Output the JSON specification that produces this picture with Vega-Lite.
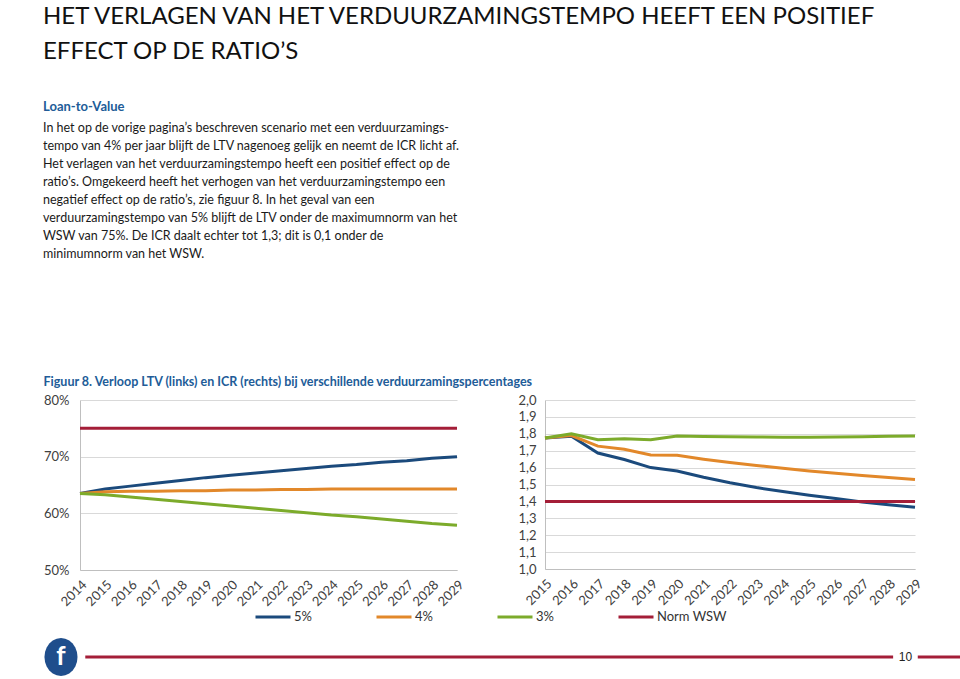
{
  "$schema": "https://vega.github.io/schema/vega-lite/v6.json",
  "background": "white",
  "padding": {"left": 43, "top": 4, "right": 0, "bottom": 0},
  "config": {
    "font": "Lato",
    "view": {"stroke": null},
    "axis": {"labelFont": "Lato", "labelColor": "#404040", "labelFontSize": 13, "domainColor": "#BFBFBF", "gridColor": "#D9D9D9", "ticks": false, "title": null},
    "legend": {"labelFont": "Lato"}
  },
  "title": {
    "text": ["HET VERLAGEN VAN HET VERDUURZAMINGSTEMPO HEEFT EEN POSITIEF", "EFFECT OP DE RATIO’S"],
    "anchor": "start", "fontSize": 24, "fontWeight": "normal", "color": "#111111", "lineHeight": 35, "offset": 37, "font": "Lato"
  },
  "spacing": 22,
  "vconcat": [
    {
      "data": {"values": []},
      "mark": "text",
      "encoding": {},
      "width": 420,
      "height": 93,
      "title": {
        "text": "Loan-to-Value",
        "subtitle": [
          "In het op de vorige pagina’s beschreven scenario met een verduurzamings-",
          "tempo van 4% per jaar blijft de LTV nagenoeg gelijk en neemt de ICR licht af.",
          "Het verlagen van het verduurzamingstempo heeft een positief effect op de",
          "ratio’s. Omgekeerd heeft het verhogen van het verduurzamingstempo een",
          "negatief effect op de ratio’s, zie figuur 8. In het geval van een",
          "verduurzamingstempo van 5% blijft de LTV onder de maximumnorm van het",
          "WSW van 75%. De ICR daalt echter tot 1,3; dit is 0,1 onder de",
          "minimumnorm van het WSW."
        ],
        "anchor": "start", "dx": -37, "fontSize": 13, "fontWeight": "bold", "color": "#215C98",
        "subtitleFontSize": 12.5, "subtitleColor": "#1a1a1a", "subtitleLineHeight": 18, "subtitlePadding": 8, "offset": 0
      }
    },
    {
      "title": {"text": "Figuur 8. Verloop LTV (links) en ICR (rechts) bij verschillende verduurzamingspercentages", "anchor": "start", "fontSize": 12.5, "fontWeight": "bold", "color": "#215C98", "offset": 6},
      "data": {"values": [
        {"chart": "LTV", "series": "5%", "year": 2014, "value": 63.5},
        {"chart": "LTV", "series": "5%", "year": 2015, "value": 64.3},
        {"chart": "LTV", "series": "5%", "year": 2016, "value": 64.8},
        {"chart": "LTV", "series": "5%", "year": 2017, "value": 65.3},
        {"chart": "LTV", "series": "5%", "year": 2018, "value": 65.8},
        {"chart": "LTV", "series": "5%", "year": 2019, "value": 66.3},
        {"chart": "LTV", "series": "5%", "year": 2020, "value": 66.7},
        {"chart": "LTV", "series": "5%", "year": 2021, "value": 67.1},
        {"chart": "LTV", "series": "5%", "year": 2022, "value": 67.5},
        {"chart": "LTV", "series": "5%", "year": 2023, "value": 67.9},
        {"chart": "LTV", "series": "5%", "year": 2024, "value": 68.3},
        {"chart": "LTV", "series": "5%", "year": 2025, "value": 68.6},
        {"chart": "LTV", "series": "5%", "year": 2026, "value": 69.0},
        {"chart": "LTV", "series": "5%", "year": 2027, "value": 69.3},
        {"chart": "LTV", "series": "5%", "year": 2028, "value": 69.7},
        {"chart": "LTV", "series": "5%", "year": 2029, "value": 70.0},
        {"chart": "LTV", "series": "4%", "year": 2014, "value": 63.5},
        {"chart": "LTV", "series": "4%", "year": 2015, "value": 63.8},
        {"chart": "LTV", "series": "4%", "year": 2016, "value": 63.9},
        {"chart": "LTV", "series": "4%", "year": 2017, "value": 63.9},
        {"chart": "LTV", "series": "4%", "year": 2018, "value": 64.0},
        {"chart": "LTV", "series": "4%", "year": 2019, "value": 64.0},
        {"chart": "LTV", "series": "4%", "year": 2020, "value": 64.1},
        {"chart": "LTV", "series": "4%", "year": 2021, "value": 64.1},
        {"chart": "LTV", "series": "4%", "year": 2022, "value": 64.2},
        {"chart": "LTV", "series": "4%", "year": 2023, "value": 64.2},
        {"chart": "LTV", "series": "4%", "year": 2024, "value": 64.3},
        {"chart": "LTV", "series": "4%", "year": 2025, "value": 64.3},
        {"chart": "LTV", "series": "4%", "year": 2026, "value": 64.3},
        {"chart": "LTV", "series": "4%", "year": 2027, "value": 64.3},
        {"chart": "LTV", "series": "4%", "year": 2028, "value": 64.3},
        {"chart": "LTV", "series": "4%", "year": 2029, "value": 64.3},
        {"chart": "LTV", "series": "3%", "year": 2014, "value": 63.5},
        {"chart": "LTV", "series": "3%", "year": 2015, "value": 63.3},
        {"chart": "LTV", "series": "3%", "year": 2016, "value": 62.9},
        {"chart": "LTV", "series": "3%", "year": 2017, "value": 62.5},
        {"chart": "LTV", "series": "3%", "year": 2018, "value": 62.1},
        {"chart": "LTV", "series": "3%", "year": 2019, "value": 61.7},
        {"chart": "LTV", "series": "3%", "year": 2020, "value": 61.3},
        {"chart": "LTV", "series": "3%", "year": 2021, "value": 60.9},
        {"chart": "LTV", "series": "3%", "year": 2022, "value": 60.5},
        {"chart": "LTV", "series": "3%", "year": 2023, "value": 60.1},
        {"chart": "LTV", "series": "3%", "year": 2024, "value": 59.7},
        {"chart": "LTV", "series": "3%", "year": 2025, "value": 59.4},
        {"chart": "LTV", "series": "3%", "year": 2026, "value": 59.0},
        {"chart": "LTV", "series": "3%", "year": 2027, "value": 58.6},
        {"chart": "LTV", "series": "3%", "year": 2028, "value": 58.2},
        {"chart": "LTV", "series": "3%", "year": 2029, "value": 57.9},
        {"chart": "LTV", "series": "Norm WSW", "year": 2014, "value": 75},
        {"chart": "LTV", "series": "Norm WSW", "year": 2015, "value": 75},
        {"chart": "LTV", "series": "Norm WSW", "year": 2016, "value": 75},
        {"chart": "LTV", "series": "Norm WSW", "year": 2017, "value": 75},
        {"chart": "LTV", "series": "Norm WSW", "year": 2018, "value": 75},
        {"chart": "LTV", "series": "Norm WSW", "year": 2019, "value": 75},
        {"chart": "LTV", "series": "Norm WSW", "year": 2020, "value": 75},
        {"chart": "LTV", "series": "Norm WSW", "year": 2021, "value": 75},
        {"chart": "LTV", "series": "Norm WSW", "year": 2022, "value": 75},
        {"chart": "LTV", "series": "Norm WSW", "year": 2023, "value": 75},
        {"chart": "LTV", "series": "Norm WSW", "year": 2024, "value": 75},
        {"chart": "LTV", "series": "Norm WSW", "year": 2025, "value": 75},
        {"chart": "LTV", "series": "Norm WSW", "year": 2026, "value": 75},
        {"chart": "LTV", "series": "Norm WSW", "year": 2027, "value": 75},
        {"chart": "LTV", "series": "Norm WSW", "year": 2028, "value": 75},
        {"chart": "LTV", "series": "Norm WSW", "year": 2029, "value": 75},
        {"chart": "ICR", "series": "5%", "year": 2015, "value": 1.775},
        {"chart": "ICR", "series": "5%", "year": 2016, "value": 1.785},
        {"chart": "ICR", "series": "5%", "year": 2017, "value": 1.686},
        {"chart": "ICR", "series": "5%", "year": 2018, "value": 1.648},
        {"chart": "ICR", "series": "5%", "year": 2019, "value": 1.6},
        {"chart": "ICR", "series": "5%", "year": 2020, "value": 1.58},
        {"chart": "ICR", "series": "5%", "year": 2021, "value": 1.543},
        {"chart": "ICR", "series": "5%", "year": 2022, "value": 1.51},
        {"chart": "ICR", "series": "5%", "year": 2023, "value": 1.482},
        {"chart": "ICR", "series": "5%", "year": 2024, "value": 1.458},
        {"chart": "ICR", "series": "5%", "year": 2025, "value": 1.437},
        {"chart": "ICR", "series": "5%", "year": 2026, "value": 1.417},
        {"chart": "ICR", "series": "5%", "year": 2027, "value": 1.397},
        {"chart": "ICR", "series": "5%", "year": 2028, "value": 1.38},
        {"chart": "ICR", "series": "5%", "year": 2029, "value": 1.365},
        {"chart": "ICR", "series": "4%", "year": 2015, "value": 1.775},
        {"chart": "ICR", "series": "4%", "year": 2016, "value": 1.79},
        {"chart": "ICR", "series": "4%", "year": 2017, "value": 1.727},
        {"chart": "ICR", "series": "4%", "year": 2018, "value": 1.708},
        {"chart": "ICR", "series": "4%", "year": 2019, "value": 1.675},
        {"chart": "ICR", "series": "4%", "year": 2020, "value": 1.673},
        {"chart": "ICR", "series": "4%", "year": 2021, "value": 1.65},
        {"chart": "ICR", "series": "4%", "year": 2022, "value": 1.63},
        {"chart": "ICR", "series": "4%", "year": 2023, "value": 1.613},
        {"chart": "ICR", "series": "4%", "year": 2024, "value": 1.596},
        {"chart": "ICR", "series": "4%", "year": 2025, "value": 1.58},
        {"chart": "ICR", "series": "4%", "year": 2026, "value": 1.566},
        {"chart": "ICR", "series": "4%", "year": 2027, "value": 1.553},
        {"chart": "ICR", "series": "4%", "year": 2028, "value": 1.541},
        {"chart": "ICR", "series": "4%", "year": 2029, "value": 1.53},
        {"chart": "ICR", "series": "3%", "year": 2015, "value": 1.775},
        {"chart": "ICR", "series": "3%", "year": 2016, "value": 1.8},
        {"chart": "ICR", "series": "3%", "year": 2017, "value": 1.765},
        {"chart": "ICR", "series": "3%", "year": 2018, "value": 1.77},
        {"chart": "ICR", "series": "3%", "year": 2019, "value": 1.765},
        {"chart": "ICR", "series": "3%", "year": 2020, "value": 1.787},
        {"chart": "ICR", "series": "3%", "year": 2021, "value": 1.784},
        {"chart": "ICR", "series": "3%", "year": 2022, "value": 1.782},
        {"chart": "ICR", "series": "3%", "year": 2023, "value": 1.781},
        {"chart": "ICR", "series": "3%", "year": 2024, "value": 1.78},
        {"chart": "ICR", "series": "3%", "year": 2025, "value": 1.78},
        {"chart": "ICR", "series": "3%", "year": 2026, "value": 1.781},
        {"chart": "ICR", "series": "3%", "year": 2027, "value": 1.783},
        {"chart": "ICR", "series": "3%", "year": 2028, "value": 1.785},
        {"chart": "ICR", "series": "3%", "year": 2029, "value": 1.787},
        {"chart": "ICR", "series": "Norm WSW", "year": 2015, "value": 1.4},
        {"chart": "ICR", "series": "Norm WSW", "year": 2016, "value": 1.4},
        {"chart": "ICR", "series": "Norm WSW", "year": 2017, "value": 1.4},
        {"chart": "ICR", "series": "Norm WSW", "year": 2018, "value": 1.4},
        {"chart": "ICR", "series": "Norm WSW", "year": 2019, "value": 1.4},
        {"chart": "ICR", "series": "Norm WSW", "year": 2020, "value": 1.4},
        {"chart": "ICR", "series": "Norm WSW", "year": 2021, "value": 1.4},
        {"chart": "ICR", "series": "Norm WSW", "year": 2022, "value": 1.4},
        {"chart": "ICR", "series": "Norm WSW", "year": 2023, "value": 1.4},
        {"chart": "ICR", "series": "Norm WSW", "year": 2024, "value": 1.4},
        {"chart": "ICR", "series": "Norm WSW", "year": 2025, "value": 1.4},
        {"chart": "ICR", "series": "Norm WSW", "year": 2026, "value": 1.4},
        {"chart": "ICR", "series": "Norm WSW", "year": 2027, "value": 1.4},
        {"chart": "ICR", "series": "Norm WSW", "year": 2028, "value": 1.4},
        {"chart": "ICR", "series": "Norm WSW", "year": 2029, "value": 1.4}
      ]},
      "spacing": 50,
      "resolve": {"scale": {"x": "independent", "y": "independent", "color": "shared"}, "legend": {"color": "shared"}},
      "hconcat": [
        {
          "width": 377, "height": 170,
          "transform": [{"filter": "datum.chart == 'LTV'"}],
          "mark": {"type": "line", "strokeWidth": 3},
          "encoding": {
            "x": {"field": "year", "type": "ordinal", "scale": {"type": "point", "padding": 0}, "axis": {"labelAngle": -45, "labelFontSize": 13, "grid": false, "domain": true, "labelPadding": 8}},
            "y": {"field": "value", "type": "quantitative", "scale": {"domain": [50, 80]}, "axis": {"values": [50, 60, 70, 80], "labelExpr": "datum.value + '%'", "grid": true, "domain": true, "labelPadding": 11}},
            "color": {"field": "series", "type": "nominal",
              "scale": {"domain": ["5%", "4%", "3%", "Norm WSW"], "range": ["#1B4A7C", "#E2882A", "#7CAB2B", "#A41E38"]},
              "legend": {"orient": "none", "legendX": 174, "legendY": 338, "direction": "horizontal", "title": null, "symbolType": "stroke", "symbolSize": 1225, "symbolStrokeWidth": 3, "labelFontSize": 13, "labelColor": "#333333", "columns": 4, "gridAlign": "all", "columnPadding": 6, "labelOffset": 2}}
          }
        },
        {
          "width": 370, "height": 169,
          "transform": [{"filter": "datum.chart == 'ICR'"}],
          "mark": {"type": "line", "strokeWidth": 3},
          "encoding": {
            "x": {"field": "year", "type": "ordinal", "scale": {"type": "point", "padding": 0}, "axis": {"labelAngle": -45, "labelFontSize": 13, "grid": false, "domain": true, "labelPadding": 8}},
            "y": {"field": "value", "type": "quantitative", "scale": {"domain": [1.0, 2.0]}, "axis": {"values": [1.0, 1.1, 1.2, 1.3, 1.4, 1.5, 1.6, 1.7, 1.8, 1.9, 2.0], "labelExpr": "replace(format(datum.value, '.1f'), '.', ',')", "grid": true, "domain": true, "labelPadding": 9}},
            "color": {"field": "series", "type": "nominal"}
          }
        }
      ]
    },
    {
      "width": 880, "height": 40,
      "data": {"values": [{"page": "10"}]},
      "layer": [
        {"mark": {"type": "rule", "color": "#A41E38", "strokeWidth": 3}, "encoding": {"x": {"datum": 0.006, "scale": {"domain": [0, 1]}, "axis": null}, "x2": {"datum": 0.924}, "y": {"datum": 0.35, "scale": {"domain": [0, 1]}, "axis": null}}},
        {"mark": {"type": "rule", "color": "#A41E38", "strokeWidth": 3}, "encoding": {"x": {"datum": 0.952}, "x2": {"datum": 1}, "y": {"datum": 0.35}}},
        {"mark": {"type": "point", "shape": "M 0.87 0 L 0.84 0.259 L 0.753 0.5 L 0.615 0.707 L 0.435 0.866 L 0.225 0.966 L 0 1 L -0.225 0.966 L -0.435 0.866 L -0.615 0.707 L -0.753 0.5 L -0.84 0.259 L -0.87 0 L -0.84 -0.259 L -0.753 -0.5 L -0.615 -0.707 L -0.435 -0.866 L -0.225 -0.966 L 0 -1 L 0.225 -0.966 L 0.435 -0.866 L 0.615 -0.707 L 0.753 -0.5 L 0.84 -0.259 Z", "size": 1444, "filled": true, "color": "#1F4E8C", "strokeWidth": 0, "opacity": 1}, "encoding": {"x": {"datum": -0.0216}, "y": {"datum": 0.35}}},
        {"mark": {"type": "text", "text": "f", "color": "white", "fontSize": 26, "font": "Lato", "fontWeight": "bold"}, "encoding": {"x": {"datum": -0.0216}, "y": {"datum": 0.35}}},
        {"mark": {"type": "text", "color": "#222222", "fontSize": 12, "font": "Liberation Sans Narrow, Liberation Sans"}, "encoding": {"text": {"field": "page"}, "x": {"datum": 0.938}, "y": {"datum": 0.35}}}
      ]
    }
  ]
}
